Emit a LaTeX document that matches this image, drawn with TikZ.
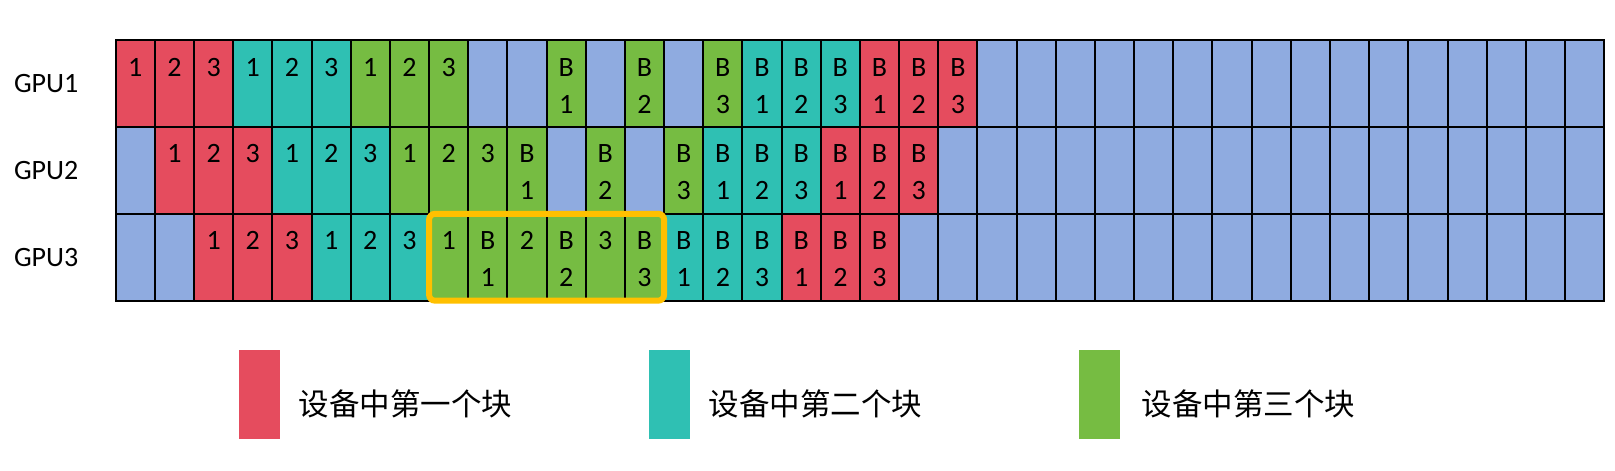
\documentclass[tikz,border=0pt]{standalone}
\usepackage{fontspec}
\setmainfont{Carlito}
\newfontfamily\cjk{Noto Sans CJK SC}
\usetikzlibrary{positioning}

\definecolor{blkA}{RGB}{229,76,94}
\definecolor{blkB}{RGB}{47,192,179}
\definecolor{blkC}{RGB}{118,188,66}
\definecolor{idle}{RGB}{143,171,224}
\definecolor{hlgold}{RGB}{255,192,0}

\newcommand{\cellnum}[1]{\begin{tabular}[t]{@{}c@{}}#1\end{tabular}}

\tikzset{every picture/.style={line width=0.75pt}}
\tikzset{
  cell/.style={draw=black, line width=2pt, inner sep=0pt, outer sep=0pt, minimum width=39.17pt, text height=36pt, text depth=50.9pt, font=\fontsize{28}{37}\selectfont},
  gpulabel/.style={inner sep=0pt, font=\fontsize{28}{34}\selectfont},
  keybox/.style={fill=#1, minimum width=41pt, minimum height=89.3pt, inner sep=0pt},
  keytext/.style={inner sep=0pt, font=\cjk\fontsize{30.5}{36}\selectfont},
  hlframe/.style={draw=hlgold, line width=6pt, rounded corners=6pt}
}

\begin{document}
\begin{tikzpicture}[x=1pt,y=1pt,yscale=-1,xscale=1]
	\useasboundingbox (0,0) rectangle (1615,471);

	% GPU1
	\foreach \kind/\lbl [count=\i from 0] in {blkA/1,blkA/2,blkA/3,blkB/1,blkB/2,blkB/3,blkC/1,blkC/2,blkC/3,idle/{},idle/{},blkC/B\\1,idle/{},blkC/B\\2,idle/{},blkC/B\\3,blkB/B\\1,blkB/B\\2,blkB/B\\3,blkA/B\\1,blkA/B\\2,blkA/B\\3}
		\node[cell, fill=\kind] (g1c\i) at ({135.29+39.17*\i}, 83.45) {\cellnum{\lbl}};
	% GPU2
	\foreach \kind/\lbl [count=\i from 0] in {idle/{},blkA/1,blkA/2,blkA/3,blkB/1,blkB/2,blkB/3,blkC/1,blkC/2,blkC/3,blkC/B\\1,idle/{},blkC/B\\2,idle/{},blkC/B\\3,blkB/B\\1,blkB/B\\2,blkB/B\\3,blkA/B\\1,blkA/B\\2,blkA/B\\3}
		\node[cell, fill=\kind] (g2c\i) at ({135.29+39.17*\i}, 170.35) {\cellnum{\lbl}};
	% GPU3
	\foreach \kind/\lbl [count=\i from 0] in {idle/{},idle/{},blkA/1,blkA/2,blkA/3,blkB/1,blkB/2,blkB/3,blkC/1,blkC/B\\1,blkC/2,blkC/B\\2,blkC/3,blkC/B\\3,blkB/B\\1,blkB/B\\2,blkB/B\\3,blkA/B\\1,blkA/B\\2,blkA/B\\3}
		\node[cell, fill=\kind] (g3c\i) at ({135.29+39.17*\i}, 257.25) {\cellnum{\lbl}};
	% idle tail
	\foreach \r/\first/\y in {1/22/83.45,2/21/170.35,3/20/257.25}
		\foreach \i in {\first,...,37}
			\node[cell, fill=idle] (g\r c\i) at ({135.29+39.17*\i}, \y) {};

	% row labels
	\node[gpulabel, left=37pt of g1c0] (gpu1) {GPU1};
	\node[gpulabel, left=37pt of g2c0] (gpu2) {GPU2};
	\node[gpulabel, left=37pt of g3c0] (gpu3) {GPU3};

	% highlight
	\draw[hlframe] (g3c8.north west) rectangle (g3c13.south east);

	% legend
	\node[keybox=blkA] (key1) at (259.5,394.7) {};
	\node[keytext, right=18pt of key1, yshift=-9pt] (key1txt) {设备中第一个块};
	\node[keybox=blkB] (key2) at (669.5,394.7) {};
	\node[keytext, right=18pt of key2, yshift=-9pt] (key2txt) {设备中第二个块};
	\node[keybox=blkC] (key3) at (1099.5,394.7) {};
	\node[keytext, right=21pt of key3, yshift=-9pt] (key3txt) {设备中第三个块};

\end{tikzpicture}
\end{document}
